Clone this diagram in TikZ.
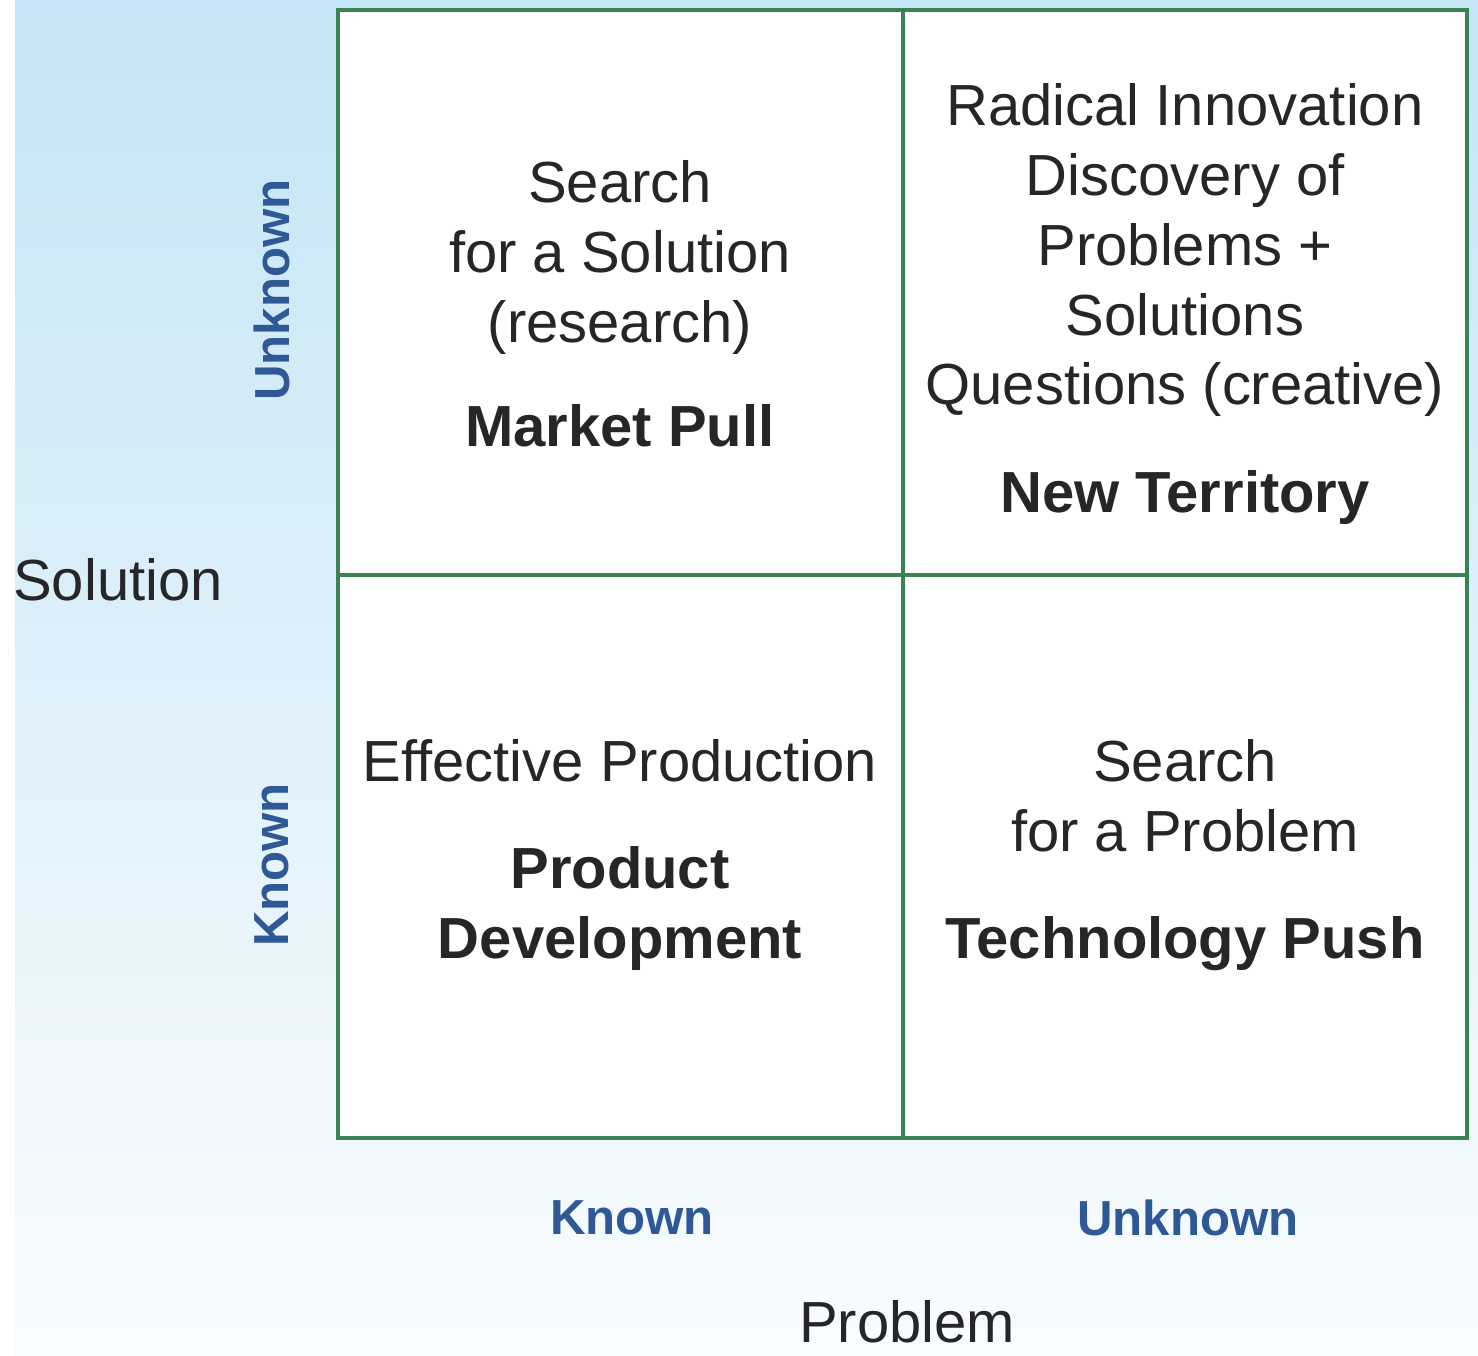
\documentclass[tikz,border=0pt]{standalone}
\usepackage{fontspec}
\setmainfont{Liberation Sans}
\usetikzlibrary{positioning}
\definecolor{gridgreen}{RGB}{58,130,84}
\definecolor{axisblue}{RGB}{46,88,150}
\definecolor{txtgray}{RGB}{38,38,40}
\definecolor{bgtop}{RGB}{196,229,245}
\definecolor{bgbot}{RGB}{249,252,254}
\tikzset{
    celltext/.style = {align=center,text=txtgray,inner sep=0pt,font=\fontsize{33}{39.7}\selectfont},
    axislab/.style = {text=txtgray,inner sep=0pt,font=\fontsize{33}{39.7}\selectfont},
    axisval/.style = {text=axisblue,inner sep=0pt,font=\fontsize{28}{34}\selectfont\bfseries},
    gridline/.style = {line width=2.6pt,gridgreen},
}

\begin{document}
\begin{tikzpicture}[x=0.02cm,y=-0.02cm]
\useasboundingbox (0,0) rectangle (1478,1356);
\shade[top color=bgtop,bottom color=bgbot] (15,0) rectangle (1478,1356);

% quadrants
\fill[white] (338,10) rectangle (1467,1138);
\draw[gridline] (338,10) rectangle (1467,1138);
\draw[gridline] (903,10) -- (903,1138);
\draw[gridline] (338,575) -- (1467,575);

\node[celltext] at ( 620,  304) (tl) {Search\\for a Solution\\(research)\\[0.6em]\textbf{Market Pull}};
\node[celltext] at (1185,  304) (tr) {Radical Innovation\\Discovery of\\Problems +\\Solutions\\Questions (creative)\\[0.65em]\textbf{New Territory}};
\node[celltext] at ( 620,  855) (bl) {Effective Production\\[0.65em]\textbf{Product}\\\textbf{Development}};
\node[celltext] at (1185,  855) (br) {Search\\for a Problem\\[0.65em]\textbf{Technology Push}};

% axes
\node[axislab] at ( 118,  580) (sol) {Solution};
\node[axislab] at ( 907, 1322) (prob) {Problem};
\node[axisval,rotate=90] at ( 272,  290) (solunk) {Unknown};
\node[axisval,rotate=90] at ( 272,  865) (solkn) {Known};
\node[axisval] at ( 632, 1218) (probkn) {Known};
\node[axisval] at (1188, 1218) (probunk) {Unknown};

\end{tikzpicture}
\end{document}
